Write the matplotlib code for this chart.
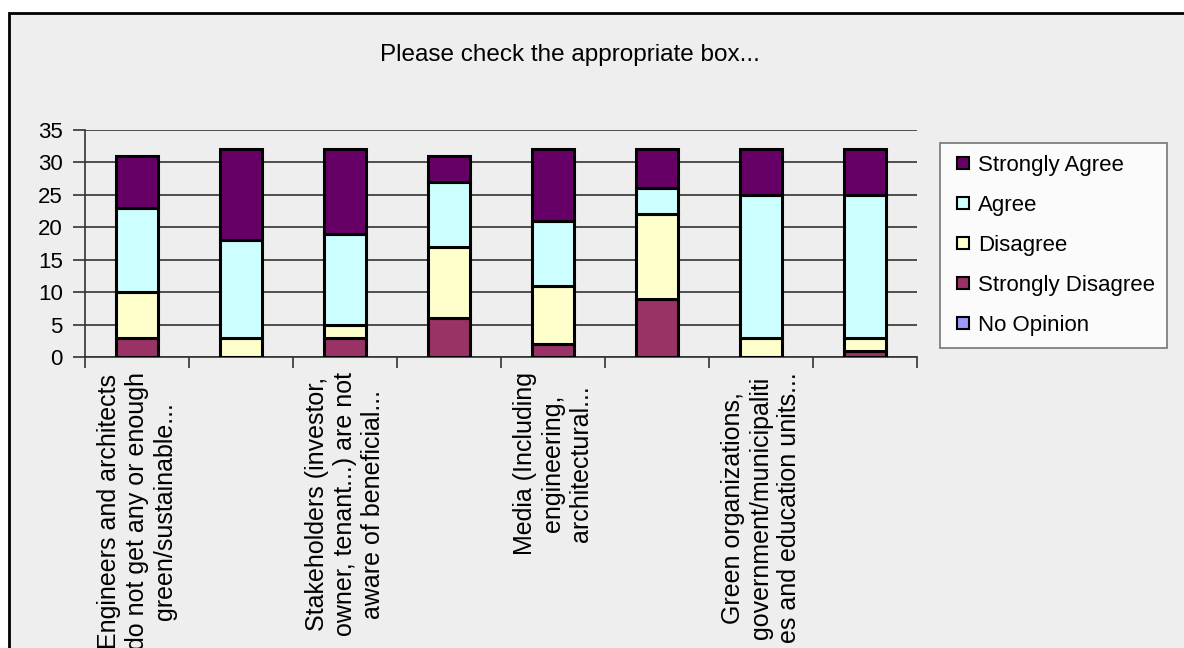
import matplotlib
matplotlib.use("Agg")
import matplotlib.pyplot as plt
from matplotlib.lines import Line2D
from matplotlib.patches import Rectangle
import numpy as np

plt.rcParams['font.family'] = ['Liberation Sans', 'DejaVu Sans']

categories = [
    "Engineers and architects\ndo not get any or enough\ngreen/sustainable...",
    "",
    "Stakeholders (investor,\nowner, tenant...) are not\naware of beneficial...",
    "",
    "Media (Including\nengineering,\narchitectural...",
    "",
    "Green organizations,\ngovernment/municipaliti\nes and education units...",
    "",
]
no_opinion = [0, 0, 0, 0, 0, 0, 0, 0]
strongly_disagree = [3, 0, 3, 6, 2, 9, 0, 1]
disagree = [7, 3, 2, 11, 9, 13, 3, 2]
agree = [13, 15, 14, 10, 10, 4, 22, 22]
strongly_agree = [8, 14, 13, 4, 11, 6, 7, 7]

series_names = ["No Opinion", "Strongly Disagree", "Disagree", "Agree", "Strongly Agree"]
series_values = [no_opinion, strongly_disagree, disagree, agree, strongly_agree]
colors = ["#9999FF", "#993366", "#FFFFCC", "#CCFFFF", "#660066"]

title = "Please check the appropriate box..."
yticks = [0, 5, 10, 15, 20, 25, 30, 35]

FS = 16

fig = plt.figure(figsize=(11.84, 6.48), dpi=100)
fig.patch.set_facecolor("white")
fig.patches.append(Rectangle((9 / 1184, -0.1), 1.2, 1 - 13 / 648 + 0.1,
                             transform=fig.transFigure, facecolor="#EEEEEE",
                             edgecolor="black", linewidth=2, zorder=-10))

ax = fig.add_axes([85 / 1184, 1 - 357 / 648, (917 - 85) / 1184, (357 - 130) / 648])
ax.set_facecolor("#EEEEEE")

x = np.arange(len(categories))
bottom = np.zeros(len(categories))
for name, vals, c in zip(series_names, series_values, colors):
    vals = np.array(vals, dtype=float)
    ax.bar(x, vals, width=0.4, bottom=bottom, color=c, edgecolor="black",
           linewidth=2.2, zorder=3, label=name)
    bottom += vals

ax.set_xlim(-0.5, len(categories) - 0.5)
ax.set_ylim(0, 35)
ax.set_yticks(yticks)
ax.set_yticklabels([str(v) for v in yticks], fontsize=FS)
ax.yaxis.grid(True, color="#333333", linewidth=1.2, zorder=0)
ax.set_axisbelow(True)

ax.set_xticks(x)
ax.set_xticklabels(categories, rotation=90, fontsize=18, ha="center", va="top",
                   multialignment="center", linespacing=1.2)
ax.tick_params(axis="x", which="major", length=0, pad=11)
ax.set_xticks(np.arange(len(categories) + 1) - 0.5, minor=True)
ax.tick_params(axis="x", which="minor", length=8, width=1.2, color="#333333", direction="out")
ax.tick_params(axis="y", length=9, width=1.2, color="#333333", pad=7)

for s in ["top", "right"]:
    ax.spines[s].set_visible(False)
ax.spines["left"].set_color("#333333")
ax.spines["left"].set_linewidth(1.2)
ax.spines["bottom"].set_color("#333333")
ax.spines["bottom"].set_linewidth(1.2)

fig.text(570 / 1184, 1 - 55 / 648, title, fontsize=17.5, ha="center", va="center")

handles = [Line2D([0], [0], marker="s", linestyle="none", markersize=9,
                  markerfacecolor=c, markeredgecolor="black", markeredgewidth=1.5)
           for c in colors[::-1]]
leg = fig.legend(handles, series_names[::-1], loc="upper left",
                 bbox_to_anchor=(940 / 1184, 1 - 143 / 648), fontsize=FS,
                 frameon=True, fancybox=False, borderaxespad=0, labelspacing=0.85,
                 handletextpad=0.15, handlelength=1.0, borderpad=0.55)
leg.get_frame().set_edgecolor("#555555")
leg.get_frame().set_facecolor("white")
leg.get_frame().set_linewidth(1.2)

fig.savefig("out.png", dpi=100, facecolor=fig.get_facecolor())
